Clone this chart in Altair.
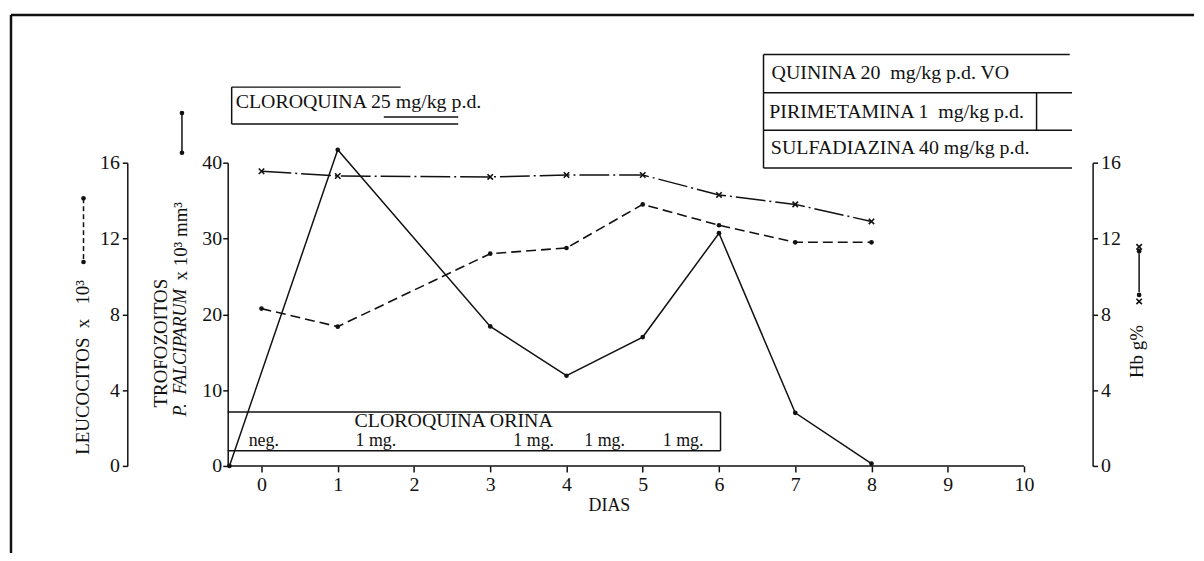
import altair as alt
import pandas as pd

# ---------------- data ----------------
trof_days = [-0.42, 1, 3, 4, 5, 6, 7, 8]
trof_vals = [0.0, 41.7, 18.4, 11.9, 17.0, 30.7, 7.0, 0.3]

leuc_days = [0, 1, 3, 4, 5, 6, 7, 8]
leuc_vals = [8.3, 7.35, 11.2, 11.5, 13.8, 12.7, 11.8, 11.8]

hb_days = [0, 1, 3, 4, 5, 6, 7, 8]
hb_vals = [15.55, 15.3, 15.25, 15.35, 15.35, 14.3, 13.8, 12.9]

day_ticks = list(range(0, 11))
trof_ticks = [0, 10, 20, 30, 40]
leuc_ticks = [0, 4, 8, 12, 16]
hb_ticks = [0, 4, 8, 12, 16]

orina_days = [0.03, 1.5, 3.57, 4.5, 5.53]
orina_labels = ["neg.", "1 mg.", "1 mg.", "1 mg.", "1 mg."]

box_labels = ["CLOROQUINA 25 mg/kg p.d.",
              "QUININA 20\u00a0 mg/kg p.d. VO",
              "PIRIMETAMINA 1\u00a0 mg/kg p.d.",
              "SULFADIAZINA 40 mg/kg p.d."]

FONT = "Liberation Serif"
INK = "#111111"

# ---------------- scales / axes ----------------
xs = alt.Scale(domain=[-0.443, 10.9], nice=False, zero=False)
ys_t = alt.Scale(domain=[0, 40], nice=False, zero=False)
ys_l = alt.Scale(domain=[0, 16], nice=False, zero=False)
ys_h = alt.Scale(domain=[0, 16], nice=False, zero=False)

x_axis = alt.Axis(values=day_ticks, domain=False, tickSize=6, labelPadding=3,
                  labelFlush=False, format="d", title=None)
trof_axis = alt.Axis(orient="left", values=trof_ticks, tickSize=5, labelPadding=1,
                     format="d", title=None)
leuc_axis = alt.Axis(orient="left", offset=101, values=leuc_ticks, tickSize=5,
                     labelPadding=3, format="d", title=None)
hb_axis = alt.Axis(orient="right", values=hb_ticks, tickSize=5, labelPadding=3,
                   format="d", title=None)

X = alt.X("d:Q", scale=xs, axis=x_axis, title=None)
YT = alt.Y("v:Q", scale=ys_t, axis=trof_axis, title=None)
YL = alt.Y("v:Q", scale=ys_l, axis=leuc_axis, title=None)
YH = alt.Y("v:Q", scale=ys_h, axis=hb_axis, title=None)

# ---------------- series tables ----------------
trof_df = pd.DataFrame({"d": trof_days, "v": trof_vals})
leuc_df = pd.DataFrame({"d": leuc_days, "v": leuc_vals})
hb_df = pd.DataFrame({"d": hb_days, "v": hb_vals})

# ---------------- decorations (in day / trofozoito units) ----------------
segs = [
    # frame
    (-3.285, 59.5, 12.23, 59.5, 2.5),
    (-3.285, 59.5, -3.285, -11.5, 2.5),
    # x axis line
    (-0.443, 0, 10.0, 0, 1.5),
    # cloroquina 25 box
    (-0.391, 49.97, 1.825, 49.97, 1.5),
    (-0.391, 49.97, -0.391, 45.1, 1.5),
    (-0.391, 45.1, 2.58, 45.1, 1.5),
    (1.604, 46.03, 2.58, 46.03, 1.5),
    # quinina / pirimetamina / sulfadiazina box
    (6.584, 54.26, 10.6, 54.26, 1.5),
    (6.584, 49.22, 10.63, 49.22, 1.5),
    (6.584, 44.29, 10.63, 44.29, 1.5),
    (6.584, 39.3, 10.63, 39.3, 1.5),
    (6.584, 54.26, 6.584, 39.3, 1.5),
    (10.165, 49.22, 10.165, 44.29, 1.5),
    # cloroquina orina box
    (-0.443, 7.12, 6.02, 7.12, 1.5),
    (-0.443, 2.0, 6.02, 2.0, 1.5),
    (6.02, 7.12, 6.02, 2.0, 1.5),
    # legend glyphs
    (-1.043, 46.56, -1.043, 41.31, 1.5),
    (11.51, 22.95, 11.51, 28.07, 1.5),
]
seg_df = pd.DataFrame(segs, columns=["d", "v", "d2", "v2", "w"])

rules = alt.Chart(seg_df).mark_rule(color=INK).encode(
    x=X, x2="d2:Q", y=YT, y2="v2:Q",
    strokeWidth=alt.StrokeWidth("w:Q", scale=None))

leuc_glyph = alt.Chart(pd.DataFrame({"d": [-2.334], "v": [35.3], "d2": [-2.334], "v2": [26.9]})).mark_rule(
    color=INK, strokeWidth=1.5, strokeDash=[5, 3]).encode(x=X, x2="d2:Q", y=YT, y2="v2:Q")

glyph_dots = alt.Chart(pd.DataFrame({
    "d": [-1.043, -1.043, -2.334, -2.334, 11.51, 11.51],
    "v": [46.56, 41.31, 35.3, 26.9, 22.56, 28.33]})).mark_point(
    filled=True, color=INK, size=22, opacity=1).encode(x=X, y=YT)

XSHAPE = "M-1,-1L1,1M-1,1L1,-1"
glyph_x = alt.Chart(pd.DataFrame({"d": [11.51, 11.51], "v": [21.7, 28.9]})).mark_point(
    shape=XSHAPE, filled=False, color=INK, size=30, strokeWidth=1.6, opacity=1).encode(x=X, y=YT)

box_text = alt.Chart(pd.DataFrame({
    "d": [-0.339, 6.69, 6.66, 6.68],
    "v": [47.17, 50.98, 45.94, 41.14],
    "t": box_labels})).mark_text(
    align="left", baseline="alphabetic", font=FONT, fontSize=20, color=INK).encode(
    x=X, y=YT, text="t:N")

orina_title = alt.Chart(pd.DataFrame({"d": [2.52], "v": [5.07], "t": ["CLOROQUINA ORINA"]})).mark_text(
    align="center", baseline="alphabetic", font=FONT, fontSize=20, color=INK).encode(
    x=X, y=YT, text="t:N")

orina_text = alt.Chart(pd.DataFrame({"d": orina_days, "v": [2.66] * len(orina_days),
                                     "t": orina_labels})).mark_text(
    align="center", baseline="alphabetic", font=FONT, fontSize=18, color=INK).encode(
    x=X, y=YT, text="t:N")

dias = alt.Chart(pd.DataFrame({"d": [4.563], "v": [-5.25], "t": ["DIAS"]})).mark_text(
    align="center", baseline="middle", font=FONT, fontSize=18, color=INK).encode(
    x=X, y=YT, text="t:N")

rot_text = alt.Chart(pd.DataFrame({
    "d": [-2.334, -1.323, -1.06, 11.486],
    "v": [13.0, 16.2, 29.64, 15.08],
    "t": ["LEUCOCITOS\u00a0 x\u00a0\u00a0 10\u00b3", "TROFOZOITOS", "x 10\u00b3 mm\u00b3", "Hb g%"]})).mark_text(
    align="center", baseline="middle", angle=270, font=FONT, fontSize=19, color=INK).encode(
    x=X, y=YT, text="t:N")

rot_italic = alt.Chart(pd.DataFrame({"d": [-1.06], "v": [14.95], "t": ["P.\u00a0 FALCIPARUM"]})).mark_text(
    align="center", baseline="middle", angle=270, font=FONT, fontSize=18, fontStyle="italic",
    color=INK).encode(x=X, y=YT, text="t:N")

# ---------------- series layers ----------------
trof_line = alt.Chart(trof_df).mark_line(color=INK, strokeWidth=1.5).encode(x=X, y=YT)
trof_pts = alt.Chart(trof_df).mark_point(filled=True, color=INK, size=22, opacity=1).encode(x=X, y=YT)

leuc_line = alt.Chart(leuc_df).mark_line(color=INK, strokeWidth=1.6, strokeDash=[10, 5]).encode(x=X, y=YL)
leuc_pts = alt.Chart(leuc_df).mark_point(filled=True, color=INK, size=22, opacity=1).encode(x=X, y=YL)

hb_line = alt.Chart(hb_df).mark_line(color=INK, strokeWidth=1.5, strokeDash=[30, 4, 2, 4]).encode(x=X, y=YH)
hb_pts = alt.Chart(hb_df).mark_point(shape=XSHAPE, filled=False, color=INK, size=30,
                                     strokeWidth=1.6, opacity=1).encode(x=X, y=YH)

trof_group = alt.layer(trof_line, trof_pts, rules, leuc_glyph, glyph_dots, glyph_x,
                       box_text, orina_title, orina_text, dias, rot_text, rot_italic)
leuc_group = alt.layer(leuc_line, leuc_pts)
hb_group = alt.layer(hb_line, hb_pts)

chart = alt.layer(trof_group, leuc_group, hb_group).resolve_scale(y="independent").properties(
    width=870, height=305,
    padding={"left": 1, "top": 4, "right": 0, "bottom": 0},
    background="white",
).configure_view(stroke=None).configure_axis(
    labelFont=FONT, labelFontSize=20, labelColor=INK,
    domainColor=INK, tickColor=INK, domainWidth=1.5, tickWidth=1.5, grid=False,
)

chart.save("out.html", embed_options={"renderer": "svg", "actions": False})
